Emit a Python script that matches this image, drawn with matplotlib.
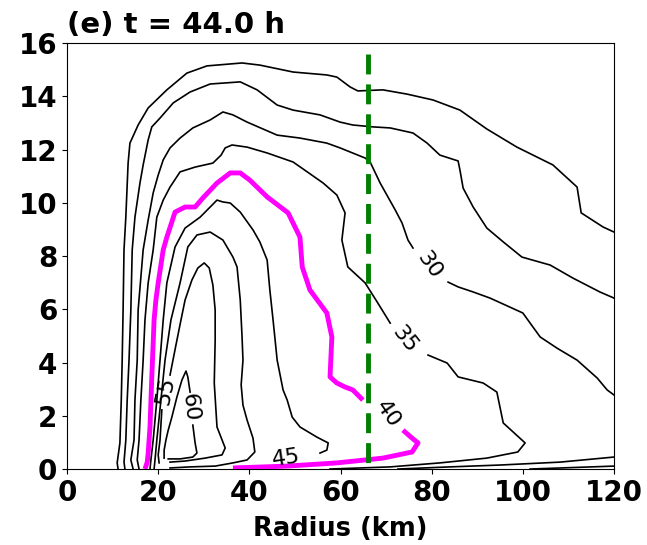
import matplotlib
matplotlib.use("Agg")
import matplotlib.pyplot as plt

# Tangential wind contours (m/s) in the radius-height plane, t = 44.0 h
# Each contour is stored as radius (km) / height (km) pairs; label gaps split a line.

# 20 m/s
r_20 = [11.2, 11.0, 11.6, 11.9, 12.1, 12.3, 12.5, 12.9, 13.4, 13.8, 15.6, 17.8, 21.9, 26.3,
        30.7, 38.4, 42.3, 49.6, 57.0, 59.2, 62.1, 63.8, 69.3, 74.6, 80.3, 86.2, 92.1, 98.7,
        106.6, 111.9, 112.8, 117.6, 120.0]
z_20 = [0.0, 0.23, 0.98, 2.59, 4.09, 5.97, 8.23, 9.46, 11.49, 12.24, 12.92, 13.56, 14.24, 14.87,
        15.14, 15.25, 15.17, 14.91, 14.80, 14.72, 14.35, 14.20, 14.24, 14.08, 13.86, 13.48, 12.77,
        12.09, 11.42, 10.59, 9.62, 9.09, 8.90]

# 25 m/s
r_25 = [12.7, 12.5, 12.9, 13.2, 13.6, 14.0, 14.3, 14.9, 16.0, 16.7, 17.8, 18.6, 20.4, 23.3,
        27.0, 31.4, 38.0, 41.7, 46.1, 49.6, 55.5, 59.9, 62.7, 67.1, 70.9, 75.9, 79.0, 81.8,
        85.8, 86.2, 86.9, 89.1, 92.1, 95.7, 99.8, 106.0, 111.0, 116.9, 120.0]
z_25 = [0.0, 0.26, 1.09, 2.59, 4.09, 5.97, 8.23, 9.46, 10.74, 11.42, 12.36, 12.85, 13.18, 13.75,
        14.16, 14.46, 14.54, 14.24, 13.67, 13.48, 13.30, 13.03, 12.92, 12.85, 12.81, 12.62, 12.24,
        11.79, 11.57, 11.23, 10.55, 9.84, 9.05, 8.53, 7.96, 7.66, 7.17, 6.65, 6.42]
r_25_sfc = [101.6, 110.0, 120.0]
z_25_sfc = [0.0, 0.05, 0.11]

# 30 m/s
r_30a = [14.5, 14.0, 14.7, 14.9, 15.4, 15.6, 16.7, 17.8, 18.9, 20.0, 21.1, 22.6, 24.8, 27.6,
         31.4, 34.2, 36.4, 39.5, 46.1, 51.1, 57.0, 59.9, 65.4, 66.5, 68.7, 72.0, 73.5, 74.8, 75.9]
z_30a = [0.0, 0.34, 1.09, 2.59, 4.09, 5.97, 8.23, 9.35, 10.37, 11.04, 11.61, 12.06, 12.43, 12.81,
         13.11, 13.41, 13.30, 13.03, 12.54, 12.43, 12.24, 12.06, 11.68, 11.53, 10.74, 9.73, 9.24,
         8.60, 8.30]
r_30b = [83.6, 85.8, 89.1, 92.8, 100.0, 103.8, 107.5, 111.9, 116.3, 118.5, 120.0]
z_30b = [7.02, 6.84, 6.65, 6.42, 5.86, 4.96, 4.54, 4.09, 3.42, 2.97, 2.78]
r_30_sfc = [72.6, 84.0, 95.0, 108.2, 120.0]
z_30_sfc = [0.0, 0.08, 0.15, 0.26, 0.45]

# 35 m/s
r_35a = [15.8, 15.4, 15.8, 16.2, 16.7, 17.1, 17.8, 18.9, 19.7, 21.1, 22.6, 24.8, 28.1, 32.0,
         33.8, 34.7, 36.2, 39.5, 43.9, 49.6, 52.7, 56.2, 59.2, 61.0, 60.3, 61.6, 65.4, 68.2, 70.9]
z_35a = [0.0, 0.34, 1.09, 2.59, 4.09, 5.60, 6.99, 8.23, 9.46, 10.10, 10.59, 11.16, 11.34, 11.49,
         11.79, 12.06, 12.17, 12.09, 11.87, 11.53, 11.16, 10.74, 10.29, 9.62, 8.60, 7.59, 6.99,
         6.23, 5.48]
r_35b = [79.2, 83.4, 85.8, 91.3, 94.3, 95.7, 100.5, 98.9, 92.1, 81.8, 70.9, 57.7]
z_35b = [4.28, 3.98, 3.46, 3.23, 2.89, 1.73, 0.98, 0.64, 0.41, 0.23, 0.08, 0.0]

# 40 m/s (highlighted)
r_40a = [17.1, 17.6, 17.8, 18.2, 18.6, 19.1, 19.5, 20.0, 21.1, 21.9, 23.7, 25.9, 28.1, 29.8,
         32.9, 35.8, 38.0, 40.1, 43.9, 48.5, 51.1, 51.6, 53.3, 57.0, 58.1, 57.7, 59.2, 61.0,
         62.7, 64.9]
z_40a = [0.0, 0.26, 0.60, 1.58, 3.46, 5.60, 6.35, 6.99, 8.23, 8.71, 9.65, 9.84, 9.84, 10.18,
         10.74, 11.12, 11.12, 10.85, 10.22, 9.62, 8.71, 7.59, 6.72, 5.86, 4.96, 3.46, 3.23, 3.08,
         2.97, 2.59]
r_40b = [73.7, 75.7, 77.0, 75.7, 69.3, 59.2, 48.3, 36.4]
z_40b = [1.46, 1.16, 0.98, 0.64, 0.41, 0.23, 0.11, 0.04]

# 45 m/s
r_45 = [18.2, 18.4, 18.9, 19.7, 20.4, 21.1, 21.9, 23.7, 25.9, 29.2, 32.9, 34.2, 35.8, 38.0,
        40.8, 42.3, 43.9, 44.5, 45.2, 46.1, 47.4, 48.3, 49.4, 51.1, 54.8, 57.3, 57.0, 55.5]
z_45 = [0.0, 0.34, 1.09, 2.59, 4.09, 5.60, 6.99, 8.34, 9.05, 9.46, 10.10, 10.03, 9.99, 9.65,
        8.98, 8.53, 7.85, 6.72, 5.60, 4.09, 2.97, 2.59, 1.95, 1.58, 1.20, 0.98, 0.71, 0.60]

# 50 m/s
r_50 = [19.1, 19.3, 19.7, 20.6, 21.5, 22.8, 24.8, 26.5, 28.5, 31.4, 34.2, 36.4, 37.3, 38.0,
        38.4, 38.6, 38.2, 38.6, 39.5, 40.8, 41.2, 39.5, 36.4, 32.5, 27.0, 22.6]
z_50 = [0.0, 0.34, 1.09, 2.59, 4.09, 5.60, 6.99, 8.34, 8.79, 8.90, 8.60, 7.96, 7.59, 6.35,
        4.96, 4.09, 3.16, 2.40, 1.84, 1.16, 0.64, 0.34, 0.23, 0.11, 0.08, 0.04]

# 55 m/s
r_55a = [20.2, 20.0, 20.4, 20.8]
z_55a = [0.23, 0.53, 1.09, 2.22]
r_55b = [22.6, 23.9, 25.0, 25.9, 27.4, 28.7, 30.1, 31.2, 32.0, 32.5, 32.5, 32.3, 32.9, 34.7,
         34.0, 30.3, 25.9, 22.6]
z_55b = [3.53, 4.66, 5.60, 6.35, 7.10, 7.55, 7.74, 7.55, 6.91, 5.97, 4.85, 3.23, 1.58, 0.79,
         0.53, 0.41, 0.30, 0.26]

# 60 m/s
r_60a = [21.3, 21.3, 21.7, 22.2, 23.0, 24.1, 25.2, 26.1, 26.5, 27.0]
z_60a = [0.41, 0.71, 1.09, 1.46, 1.95, 2.70, 3.34, 3.68, 3.46, 2.89]
r_60b = [27.6, 28.1, 28.5, 27.6, 24.8, 22.2]
z_60b = [1.65, 0.98, 0.60, 0.45, 0.38, 0.38]

# Contour labels
label_text = ["30", "35", "40", "45", "55", "60"]
label_r = [79.4, 74.1, 70.4, 48.0, 21.5, 27.0]
label_z = [7.66, 4.88, 2.07, 0.40, 2.93, 2.33]
label_rot = [-55, -52, -55, 8, 78, -84]

# Radius of the reference line
r_ref = 66.0
z_ref_top = 15.6

black_lines = [
    (r_20, z_20), (r_25, z_25), (r_25_sfc, z_25_sfc),
    (r_30a, z_30a), (r_30b, z_30b), (r_30_sfc, z_30_sfc),
    (r_35a, z_35a), (r_35b, z_35b),
    (r_45, z_45), (r_50, z_50),
    (r_55a, z_55a), (r_55b, z_55b),
    (r_60a, z_60a), (r_60b, z_60b),
]

fig = plt.figure(figsize=(6.47, 5.45), dpi=100)
ax = fig.add_axes([0.1036, 0.1394, 0.8454, 0.7817])

for r, z in black_lines:
    ax.plot(r, z, color="black", lw=1.2, zorder=2, solid_joinstyle="round")

for r, z in [(r_40a, z_40a), (r_40b, z_40b)]:
    ax.plot(r, z, color="#ff00ff", lw=3.5, zorder=3, solid_capstyle="butt",
            solid_joinstyle="round")

ax.plot([r_ref, r_ref], [z_ref_top, 0.0], color="green", lw=3.5,
        dashes=(4.1, 2.05), zorder=4)

for t, r, z, rot in zip(label_text, label_r, label_z, label_rot):
    ax.text(r, z, t, fontsize=16, rotation=rot, ha="center", va="center",
            rotation_mode="anchor", zorder=5)

ax.set_xlim(0, 120)
ax.set_ylim(0, 16)
ax.set_xticks(range(0, 121, 20))
ax.set_yticks(range(0, 17, 2))
for lab in ax.get_xticklabels() + ax.get_yticklabels():
    lab.set_fontsize(20)
    lab.set_fontweight("bold")
ax.set_xlabel("Radius (km)", fontsize=18.5, fontweight="bold", labelpad=7)
ax.set_title("(e) t = 44.0 h", loc="left", fontsize=21, fontweight="bold", pad=7)

fig.savefig("out.png", dpi=100)
